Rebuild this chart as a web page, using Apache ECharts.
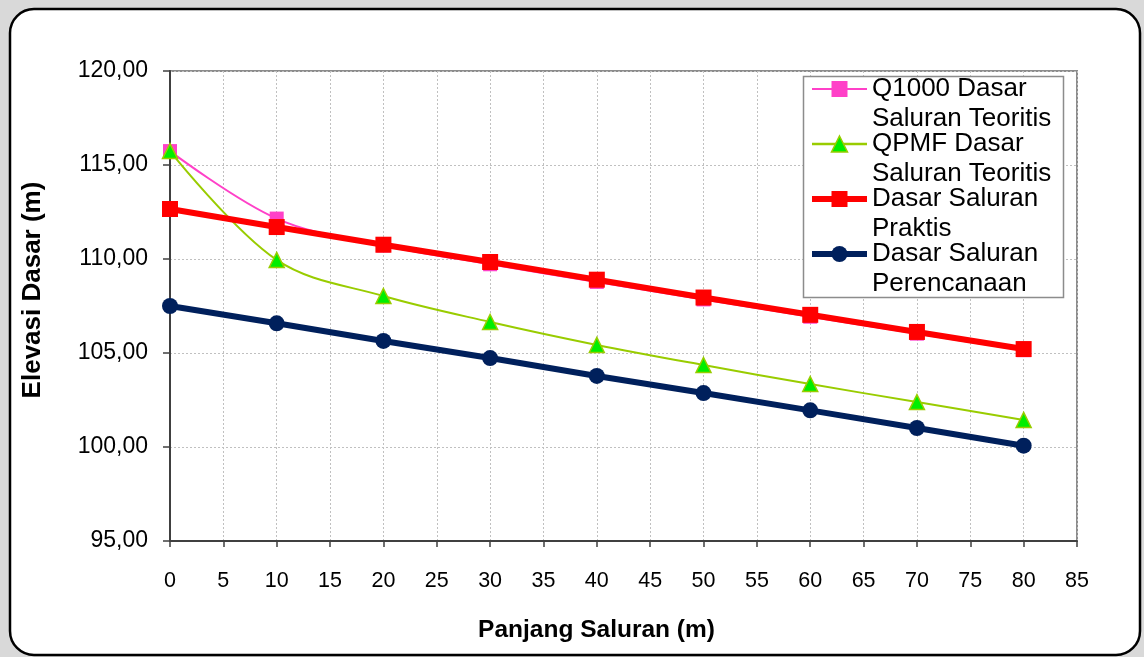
<!DOCTYPE html>
<html>
<head>
<meta charset="utf-8">
<script src="https://cdn.jsdelivr.net/npm/echarts@6/dist/echarts.min.js"></script>
<style>
html,body{margin:0;padding:0;background:#d9d9d9;}
#chart{width:1144px;height:657px;}
</style>
</head>
<body>
<div id="chart"></div>
<script>
var xValues = [0, 10, 20, 30, 40, 50, 60, 70, 80];
var q1000 = [115.74, 112.15, 110.72, 109.72, 108.78, 107.85, 106.93, 106.03, 105.15];
var qpmf = [115.74, 109.95, 108.03, 106.65, 105.43, 104.36, 103.35, 102.39, 101.44];
var praktis = [112.66, 111.70, 110.76, 109.84, 108.90, 107.95, 107.03, 106.12, 105.21];
var perencanaan = [107.50, 106.58, 105.64, 104.73, 103.78, 102.87, 101.95, 101.01, 100.07];
var seriesNames = ['Q1000 Dasar Saluran Teoritis', 'QPMF Dasar Saluran Teoritis', 'Dasar Saluran Praktis', 'Dasar Saluran Perencanaan'];
var legendLines = {
  'Q1000 Dasar Saluran Teoritis': ['Q1000 Dasar', 'Saluran Teoritis'],
  'QPMF Dasar Saluran Teoritis': ['QPMF Dasar', 'Saluran Teoritis'],
  'Dasar Saluran Praktis': ['Dasar Saluran', 'Praktis'],
  'Dasar Saluran Perencanaan': ['Dasar Saluran', 'Perencanaan']
};

function pairs(ys){ return xValues.map(function(x,i){ return [x, ys[i]]; }); }

var colors = {pink:'#ff40c8', green:'#99cc00', greenFill:'#00ee00', red:'#ff0000', navy:'#00205c'};

var chart = echarts.init(document.getElementById('chart'), null, {renderer:'canvas'});
var font = '"Liberation Sans", Arial, sans-serif';
chart.setOption({
  backgroundColor: '#d9d9d9',
  animation: false,
  graphic: [
    { type:'rect', z:-10, shape:{x:10, y:9, width:1130, height:646, r:24},
      style:{fill:'#ffffff', stroke:'#000000', lineWidth:2.5} },
    { type:'rect', z:3, shape:{x:803.5, y:76.5, width:260, height:221},
      style:{fill:'#ffffff', stroke:'#8c8c8c', lineWidth:1.5} }
  ],
  grid: { left:170, right:67, top:71, bottom:116, show:true, borderColor:'#8c8c8c', borderWidth:2, backgroundColor:'transparent' },
  xAxis: {
    type:'value', min:0, max:85, interval:5,
    name:'Panjang Saluran (m)', nameLocation:'middle', nameGap:77,
    nameTextStyle:{fontFamily:font, fontSize:24.5, fontWeight:'bold', color:'#000', padding:[0,54,0,0]},
    axisLine:{show:true, onZero:false, lineStyle:{color:'#404040', width:2}},
    axisTick:{show:true, length:6, lineStyle:{color:'#404040', width:1.5}},
    axisLabel:{fontFamily:font, fontSize:21.5, color:'#000', margin:29},
    splitLine:{show:true, lineStyle:{color:'#c0c0c0', type:[2,2], width:1}}
  },
  yAxis: {
    type:'value', min:95, max:120, interval:5,
    name:'Elevasi Dasar (m)', nameLocation:'middle', nameGap:124,
    nameTextStyle:{fontFamily:font, fontSize:26, fontWeight:'bold', color:'#000', padding:[0,0,0,32]},
    axisLine:{show:true, onZero:false, lineStyle:{color:'#404040', width:2}},
    axisTick:{show:true, length:7, lineStyle:{color:'#404040', width:1.5}},
    axisLabel:{fontFamily:font, fontSize:23, color:'#000', margin:22,
      formatter:function(v){ return v.toFixed(2).replace('.', ','); }},
    splitLine:{show:true, lineStyle:{color:'#c0c0c0', type:[2,2], width:1}}
  },
  legend: {
    orient:'vertical', left:809, top:44, padding:0, itemGap:-35,
    itemWidth:55, itemHeight:20, z:5,
    data: [
      {name:seriesNames[0], itemStyle:{color:colors.pink}, lineStyle:{color:colors.pink, width:2}},
      {name:seriesNames[1], itemStyle:{color:colors.greenFill, borderColor:colors.green, borderWidth:1.5}, lineStyle:{color:colors.green, width:2.5}},
      {name:seriesNames[2], itemStyle:{color:colors.red}, lineStyle:{color:colors.red, width:6}},
      {name:seriesNames[3], itemStyle:{color:colors.navy}, lineStyle:{color:colors.navy, width:6}}
    ],
    formatter:function(n){ var l = legendLines[n]; return '\n' + l[0] + '\n' + l[1]; },
    textStyle:{fontFamily:font, fontSize:26, color:'#000', lineHeight:30}
  },
  series: [
    { name:seriesNames[0], type:'line', smooth:0.35, data:pairs(q1000),
      symbol:'rect', symbolSize:14,
      itemStyle:{color:colors.pink}, lineStyle:{color:colors.pink, width:2}, z:2 },
    { name:seriesNames[1], type:'line', smooth:0.35, data:pairs(qpmf),
      symbol:'triangle', symbolSize:15,
      itemStyle:{color:colors.greenFill, borderColor:colors.green, borderWidth:1.5}, lineStyle:{color:colors.green, width:2}, z:3 },
    { name:seriesNames[2], type:'line', data:pairs(praktis),
      symbol:'rect', symbolSize:16,
      itemStyle:{color:colors.red}, lineStyle:{color:colors.red, width:6}, z:4 },
    { name:seriesNames[3], type:'line', data:pairs(perencanaan),
      symbol:'circle', symbolSize:16,
      itemStyle:{color:colors.navy}, lineStyle:{color:colors.navy, width:6}, z:4 }
  ]
});
</script>
</body>
</html>
